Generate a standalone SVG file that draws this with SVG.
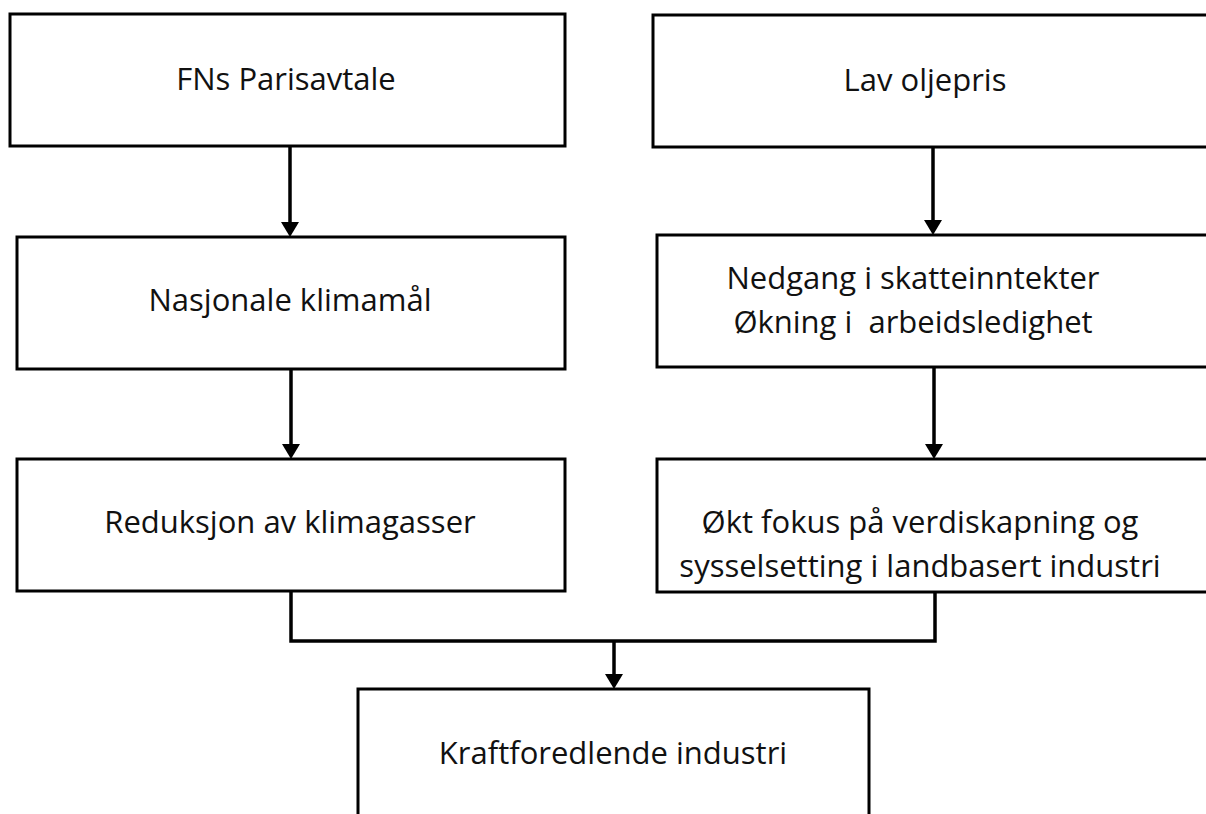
<svg xmlns="http://www.w3.org/2000/svg" width="1206" height="814" viewBox="0 0 1206 814">
<style>
.box{fill:#fff;stroke:#000;stroke-width:3}
.lbl{font-family:"Open Sans","Liberation Sans",sans-serif;font-size:31px;fill:#111;text-anchor:middle;white-space:pre}
.ln{fill:none;stroke:#000;stroke-width:3.5}
.ah{fill:#000}
</style>
<rect width="1206" height="814" fill="#fff"/>
<g id="connectors">
<line class="ln" x1="290" y1="146" x2="290" y2="224"/>
<polygon class="ah" points="281,222 299,222 290,237"/>
<line class="ln" x1="933" y1="147" x2="933" y2="222"/>
<polygon class="ah" points="924,220 942,220 933,235"/>
<line class="ln" x1="291" y1="369" x2="291" y2="446"/>
<polygon class="ah" points="282,444 300,444 291,459"/>
<line class="ln" x1="934" y1="367" x2="934" y2="446"/>
<polygon class="ah" points="925,444 943,444 934,459"/>
<polyline class="ln" points="291,591 291,641 935,641 935,592"/>
<line class="ln" x1="614" y1="641" x2="614" y2="676"/>
<polygon class="ah" points="605,674 623,674 614,689"/>
</g>
<g id="n1"><rect class="box" x="10" y="14" width="555" height="132"/><text class="lbl" x="286" y="90">FNs Parisavtale</text></g>
<g id="n2"><rect class="box" x="653" y="15" width="560" height="132"/><text class="lbl" x="925" y="91">Lav oljepris</text></g>
<g id="n3"><rect class="box" x="17" y="237" width="548" height="132"/><text class="lbl" x="290" y="311">Nasjonale klimamål</text></g>
<g id="n4"><rect class="box" x="657" y="235" width="556" height="132"/><text class="lbl" x="913" y="289">Nedgang i skatteinntekter</text><text class="lbl" x="913" y="333">Økning i  arbeidsledighet</text></g>
<g id="n5"><rect class="box" x="17" y="459" width="548" height="132"/><text class="lbl" x="290" y="533">Reduksjon av klimagasser</text></g>
<g id="n6"><rect class="box" x="657" y="459" width="556" height="133"/><text class="lbl" x="920" y="533">Økt fokus på verdiskapning og</text><text class="lbl" x="920" y="577">sysselsetting i landbasert industri</text></g>
<g id="n7"><rect class="box" x="358" y="689" width="511" height="140"/><text class="lbl" x="613" y="764">Kraftforedlende industri</text></g>
</svg>
